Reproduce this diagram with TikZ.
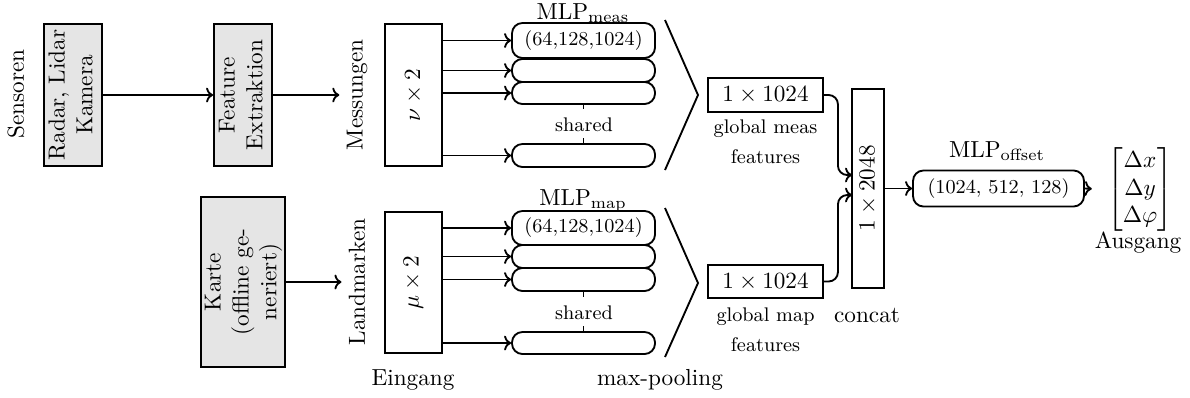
\documentclass[tikz,border=0pt]{standalone}
\usepackage{amsmath}
\usepackage{graphicx}
\usetikzlibrary{arrows.meta}
\newcommand\pxu{0.431pt}
\newcommand\smallfnt{\fontsize{8.5}{12.9}\selectfont}
\begin{document}
\begin{tikzpicture}[x=0.431pt,y=-0.431pt,
  >={To[length=3pt,width=6.4pt]},
  line/.style={thick},
  arr/.style={thick,->},
  box/.style={draw,thick,inner sep=0pt,align=center},
  gbox/.style={box,fill=gray!20},
  mlprow/.style={draw,thick,rounded corners=4.5pt,inner sep=0pt,minimum width=143*\pxu,font=\smallfnt},
  lbl/.style={inner sep=0pt,align=center},
  small lbl/.style={lbl,font=\smallfnt}]
\path[use as bounding box] (0,0) rectangle (1190,397);

% ---------- upper branch ----------
\node[lbl,rotate=90] (sens) at (16,94) {Sensoren};
\node[gbox,minimum width=58*\pxu,minimum height=142*\pxu] (radar) at (73,95)
  {\rotatebox{90}{\begin{tabular}{@{}c@{}}Radar, Lidar\\Kamera\end{tabular}}};
\node[gbox,minimum width=58*\pxu,minimum height=142*\pxu] (feat) at (243,95)
  {\rotatebox{90}{\begin{tabular}{@{}c@{}}Feature\\Extraktion\end{tabular}}};
\node[rotate=90,inner sep=3pt] (mess) at (357,95) {Messungen};
\node[box,minimum width=57*\pxu,minimum height=142*\pxu] (in1) at (413.5,95)
  {\rotatebox{90}{$\nu\times 2$}};

\node[mlprow,minimum height=35*\pxu] (m1a) at (583.5,40.5) {(64,128,1024)};
\node[mlprow,minimum height=23*\pxu] (m1b) at (583.5,70.5) {};
\node[mlprow,minimum height=22*\pxu] (m1c) at (583.5,93) {};
\node[mlprow,minimum height=23*\pxu] (m1d) at (583.5,155.5) {};
\node[lbl,anchor=base] (mlpmeas) at (583,19.5) {MLP$_{\text{meas}}$};
\node[small lbl] (shared1) at (584,125) {shared};
\draw[line] (m1c.south) -- ++(0,4.5);
\draw[line] (m1d.north) -- ++(0,-5);

\draw[arr] (radar) -- (feat);
\draw[arr] (feat) -- (mess);
\foreach \r in {m1a,m1b,m1c,m1d}
  \draw[arr] (in1.east |- \r.west) -- (\r.west);

\coordinate (p1a) at (665,20);
\coordinate (p1b) at (698,95);
\coordinate (p1c) at (665,170);
\draw[line] (p1a) -- (p1b) -- (p1c);

\node[box,minimum width=115*\pxu,minimum height=34*\pxu] (g1) at (765.5,95) {$1\times 1024$};
\node[small lbl] (g1lab) at (765.5,142) {global meas\\features};

% ---------- lower branch ----------
\node[gbox,minimum width=80*\pxu,minimum height=170*\pxu] (kart) at (243,282)
  {\rotatebox{90}{\begin{tabular}{@{}c@{}}Karte\\(offline ge-\\neriert)\end{tabular}}};
\node[rotate=90,inner sep=3pt] (land) at (357,282) {Landmarken};
\node[box,minimum width=57*\pxu,minimum height=141*\pxu] (in2) at (413.5,282.5)
  {\rotatebox{90}{$\mu\times 2$}};

\node[mlprow,minimum height=34*\pxu] (m2a) at (583.5,228) {(64,128,1024)};
\node[mlprow,minimum height=23*\pxu] (m2b) at (583.5,256.5) {};
\node[mlprow,minimum height=23*\pxu] (m2c) at (583.5,279.5) {};
\node[mlprow,minimum height=22*\pxu] (m2d) at (583.5,343) {};
\node[lbl,anchor=base] (mlpmap) at (583,205) {MLP$_{\text{map}}$};
\node[small lbl] (shared2) at (584,313) {shared};
\draw[line] (m2c.south) -- ++(0,5);
\draw[line] (m2d.north) -- ++(0,-5);

\draw[arr] (kart) -- (land);
\foreach \r in {m2a,m2b,m2c,m2d}
  \draw[arr] (in2.east |- \r.west) -- (\r.west);

\coordinate (p2a) at (665,208);
\coordinate (p2b) at (698,283);
\coordinate (p2c) at (665,357);
\draw[line] (p2a) -- (p2b) -- (p2c);

\node[box,minimum width=115*\pxu,minimum height=33*\pxu] (g2) at (765.5,281.5) {$1\times 1024$};
\node[small lbl] (g2lab) at (765.5,330) {global map\\features};

\node[lbl,anchor=base] (eing) at (413,385) {Eingang};
\node[lbl,anchor=base] (maxp) at (660,385) {max-pooling};

% ---------- concat and output ----------
\node[box,minimum width=32*\pxu,minimum height=199*\pxu] (concat) at (868,188.5)
  {\rotatebox{90}{$1\times 2048$}};
\node[lbl,anchor=base] (concatlab) at (867,322) {concat};
\coordinate (cin1) at (852,175);
\coordinate (cin2) at (852,195);
\draw[arr,rounded corners=4pt] (g1.east) -- ++(14,0) |- (cin1);
\draw[arr,rounded corners=4pt] (g2.east) -- ++(14,0) |- (cin2);

\node[mlprow,minimum width=171*\pxu,minimum height=36*\pxu] (off) at (998.5,188.5) {(1024, 512, 128)};
\node[lbl,anchor=base] (offlab) at (997,157) {MLP$_{\text{offset}}$};
\draw[arr] (concat.east |- off.west) -- (off.west);

\node[inner sep=0pt] (out) at (1140,189.5)
  {$\begin{bmatrix}\Delta x\\ \Delta y\\ \Delta\varphi\end{bmatrix}$};
\node[lbl,anchor=base] (ausg) at (1138,248) {Ausgang};
\draw[arr,shorten >=6.5pt] (off.east) -- (out.west);
\end{tikzpicture}
\end{document}
